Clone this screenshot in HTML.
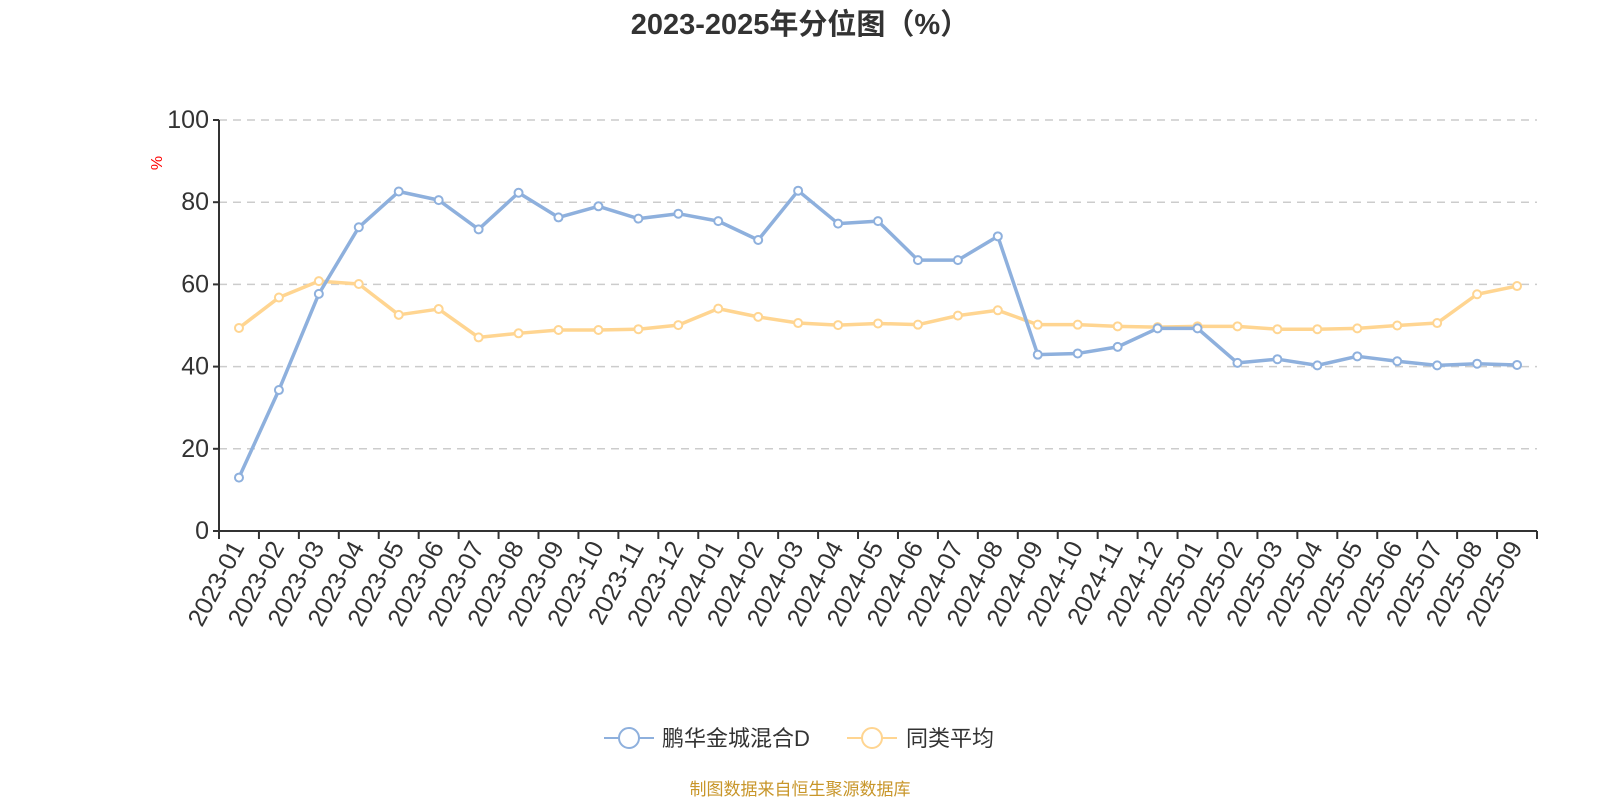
<!DOCTYPE html>
<html><head><meta charset="utf-8"><style>
body{margin:0;background:#fff;}
svg{display:block;font-family:"Liberation Sans","Noto Sans CJK SC",sans-serif;}
</style></head><body>
<svg id="chart" width="1600" height="800">
<text x="800" y="34" text-anchor="middle" font-size="29" font-weight="bold" fill="#333">2023-2025年分位图（%）</text>
<text transform="translate(162,163) rotate(-90)" text-anchor="middle" font-size="16" fill="#f00">%</text>
<g id="grid"></g><g id="xaxis"></g><g id="series"></g>
<g>
<g>
<line x1="604" y1="738" x2="654" y2="738" stroke="#8eb0dd" stroke-width="2"/>
<circle cx="629" cy="738" r="10" fill="#fff" stroke="#8eb0dd" stroke-width="2"/>
<text x="662" y="746" font-size="22" fill="#333">鹏华金城混合D</text></g>
<g>
<line x1="847" y1="738" x2="897" y2="738" stroke="#ffd591" stroke-width="2"/>
<circle cx="872" cy="738" r="10" fill="#fff" stroke="#ffd591" stroke-width="2"/>
<text x="906" y="746" font-size="22" fill="#333">同类平均</text></g>
</g>
<text x="800" y="795" text-anchor="middle" font-size="17" fill="#c8962a">制图数据来自恒生聚源数据库</text>
</svg>
<script>
const categories=["2023-01","2023-02","2023-03","2023-04","2023-05","2023-06","2023-07","2023-08","2023-09","2023-10","2023-11","2023-12","2024-01","2024-02","2024-03","2024-04","2024-05","2024-06","2024-07","2024-08","2024-09","2024-10","2024-11","2024-12","2025-01","2025-02","2025-03","2025-04","2025-05","2025-06","2025-07","2025-08","2025-09"];
const fundValues=[13,34.3,57.7,73.9,82.6,80.5,73.4,82.3,76.3,79,76,77.2,75.4,70.8,82.8,74.8,75.4,65.9,65.9,71.7,42.9,43.2,44.8,49.3,49.3,40.9,41.8,40.3,42.5,41.3,40.3,40.7,40.4];
const avgValues=[49.4,56.8,60.8,60.1,52.6,54,47.1,48.1,48.9,48.9,49.1,50.1,54.1,52.1,50.6,50.1,50.5,50.2,52.4,53.7,50.2,50.2,49.8,49.6,49.8,49.8,49.1,49.1,49.3,50,50.6,57.6,59.6];
const yTicks=[0,20,40,60,80,100];
const NS="http://www.w3.org/2000/svg";
const X0=219,X1=1537,Y0=531,Y1=120;
const band=(X1-X0)/categories.length;
const xPos=i=>X0+band*(i+0.5);
const yPos=v=>Y0-(v/100)*(Y0-Y1);
function mk(tag,attrs,parent){const e=document.createElementNS(NS,tag);for(const k in attrs)e.setAttribute(k,attrs[k]);parent.appendChild(e);return e;}
const grid=document.getElementById('grid'),xa=document.getElementById('xaxis'),ser=document.getElementById('series');
yTicks.forEach(t=>{
  const y=yPos(t);
  if(t>0){const l=mk('line',{x1:X0,x2:X1,y1:y,y2:y,stroke:'#ccc','stroke-width':1.5,'stroke-dasharray':'8,6'},grid);
  
  }
  mk('line',{x1:X0-6,x2:X0,y1:y,y2:y,stroke:'#333','stroke-width':2},grid);
  const tx=mk('text',{x:X0-10,y:y+8,'text-anchor':'end','font-size':25,fill:'#333'},grid);
  tx.textContent=t;
  
  
});
const ya=mk('line',{x1:X0,x2:X0,y1:Y1,y2:Y0,stroke:'#333','stroke-width':2},xa);


const xl=mk('line',{x1:X0,x2:X1,y1:Y0,y2:Y0,stroke:'#333','stroke-width':2},xa);


for(let i=0;i<=categories.length;i++){const x=X0+band*i;mk('line',{x1:x,x2:x,y1:Y0,y2:Y0+8,stroke:'#333','stroke-width':2},xa);}
categories.forEach((c,i)=>{
  const x=xPos(i);
  const t=mk('text',{transform:`translate(${x+6},${Y0+16}) rotate(-62)`,'text-anchor':'end','font-size':25,fill:'#333'},xa);
  t.textContent=c;
  
  
});
function drawSeries(vals,color,name){
  const g=mk('g',{},ser);
  
  
  const pl=mk('polyline',{points:vals.map((v,i)=>xPos(i)+','+yPos(v)).join(' '),fill:'none',stroke:color,'stroke-width':3.5,'stroke-linejoin':'round'},g);
  
  
  vals.forEach((v,i)=>{
    const c=mk('circle',{cx:xPos(i),cy:yPos(v),r:4,fill:'#fff',stroke:color,'stroke-width':2},g);
    
    
  });
}
drawSeries(avgValues,'#ffd591','average');
drawSeries(fundValues,'#8eb0dd','fund');
</script>
</body></html>
